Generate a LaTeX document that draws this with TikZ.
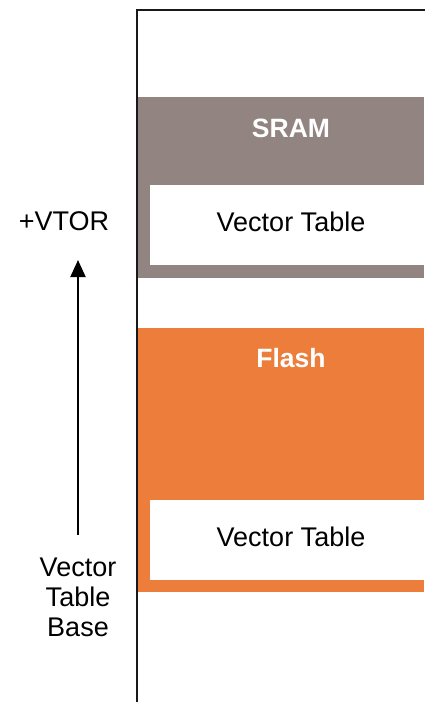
\documentclass[tikz,border=0pt]{standalone}
\usepackage{fontspec}
\setmainfont{Liberation Sans}
\usetikzlibrary{arrows.meta}
\definecolor{sramfill}{HTML}{928481}
\definecolor{flashfill}{HTML}{ED7D3A}
\tikzset{
  slot/.style={fill=white,draw=none},
  lbl/.style={font=\fontsize{27}{30}\selectfont,text=black,inner sep=0pt,align=center},
  title/.style={font=\fontsize{26.5}{29}\selectfont\bfseries,text=white,inner sep=0pt},
  frameline/.style={line width=2.4pt,draw=black!90},
  offset/.style={line width=2pt,-{Triangle[width=15pt,length=17pt]}}
}
\begin{document}
\begin{tikzpicture}[x=1pt,y=-1pt]
  \useasboundingbox (0,0) rectangle (424,702);

  % memory regions
  \fill[sramfill] (138,97) rectangle (424,278);
  \fill[slot] (150,185) rectangle (424,265);
  \fill[flashfill] (138,328) rectangle (424,592);
  \fill[slot] (150,500) rectangle (424,580);

  % memory map outline
  \draw[frameline] (137,702) -- (137,10) -- (425,10);

  % region labels
  \node[title] (sram) at (291,128) {SRAM};
  \node[lbl] (sramvt) at (291,222) {Vector Table};
  \node[title] (flash) at (291,358) {Flash};
  \node[lbl] (flashvt) at (291,537) {Vector Table};

  % offset annotation
  \node[lbl] (vtor) at (64,221) {+VTOR};
  \node[lbl] (base) at (78,597) {Vector\\Table\\Base};
  \coordinate (tail) at (78,535);
  \coordinate (tip) at (78,260);
  \draw[offset] (tail) -- (tip);
\end{tikzpicture}
\end{document}
